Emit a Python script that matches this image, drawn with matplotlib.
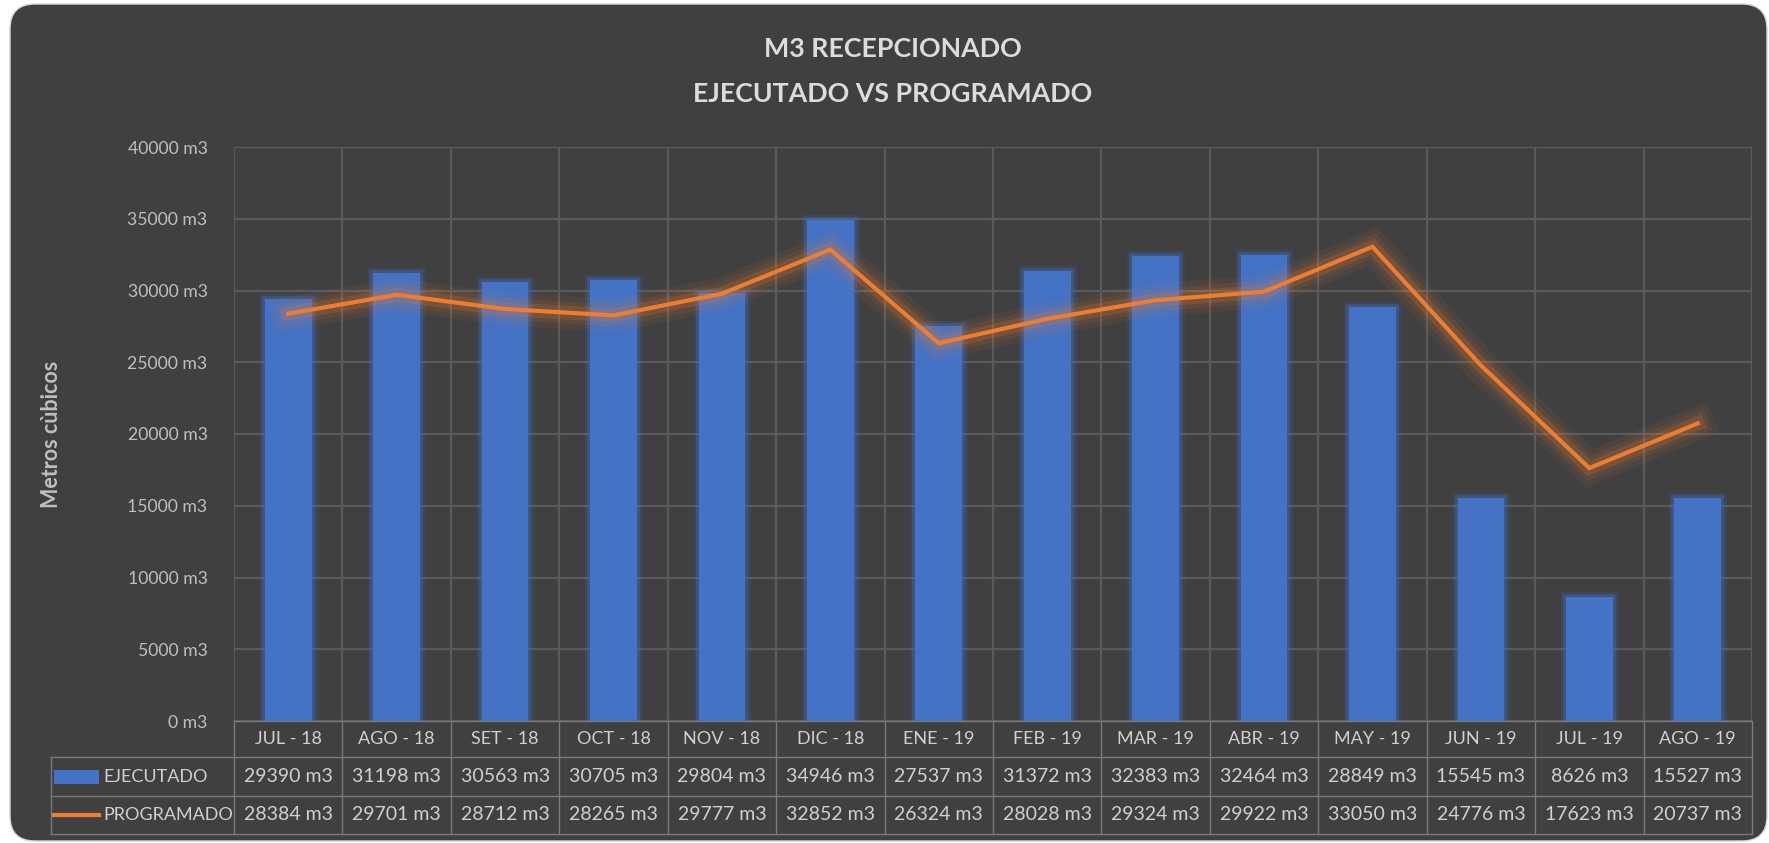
import matplotlib
matplotlib.use("Agg")
import matplotlib.pyplot as plt
import matplotlib.patheffects as pe
from matplotlib.patches import FancyBboxPatch, Rectangle
from matplotlib.lines import Line2D
from matplotlib.transforms import blended_transform_factory
import numpy as np

plt.rcParams['font.family'] = ['Lato', 'DejaVu Sans']

categories = ["JUL - 18", "AGO - 18", "SET - 18", "OCT - 18", "NOV - 18", "DIC - 18", "ENE - 19",
              "FEB - 19", "MAR - 19", "ABR - 19", "MAY - 19", "JUN - 19", "JUL - 19", "AGO - 19"]
ejecutado = [29390, 31198, 30563, 30705, 29804, 34946, 27537, 31372, 32383, 32464, 28849, 15545, 8626, 15527]
programado = [28384, 29701, 28712, 28265, 29777, 32852, 26324, 28028, 29324, 29922, 33050, 24776, 17623, 20737]
yticks = [0, 5000, 10000, 15000, 20000, 25000, 30000, 35000, 40000]
series_names = ["EJECUTADO", "PROGRAMADO"]
title_lines = ["M3 RECEPCIONADO", "EJECUTADO VS PROGRAMADO"]
ylabel = "Metros cùbicos"

W, H = 1769, 843
BAR_C = "#4472C4"
LINE_C = "#ED7D31"
GRID_C = "#5A5A5A"
PANEL_C = "#404040"
TXT_C = "#D0D0D0"

fig = plt.figure(figsize=(W / 100, H / 100), dpi=100, facecolor="white")

# dark rounded panel
panel = FancyBboxPatch((0.10, 0.02), 17.57, 8.37, boxstyle="round,pad=0,rounding_size=0.25",
                       transform=fig.dpi_scale_trans, facecolor=PANEL_C, edgecolor="#D8D8D8",
                       linewidth=1.0, zorder=-5)
fig.patches.append(panel)

L, R, T, B = 234, 1752, 147, 721
ax = fig.add_axes([L / W, (H - B) / H, (R - L) / W, (B - T) / H])
ax.set_zorder(2)
ax.set_facecolor("none")
n = len(categories)
x = np.arange(n)
ax.set_xlim(-0.5, n - 0.5)
ax.set_ylim(0, 40000)

# grid
for yv in yticks:
    ax.axhline(yv, color=GRID_C, lw=1.6, zorder=1)
for b in np.arange(-0.5, n, 1.0):
    ax.axvline(b, color=GRID_C, lw=1.6, zorder=1)
for s in ax.spines.values():
    s.set_visible(False)

ax.set_xticks([])
ax.set_yticks(yticks)
ax.set_yticklabels([f"{v} m3" for v in yticks], fontsize=12.7, color="#BFBFBF")
ax.tick_params(axis="y", length=0, pad=19)

bars = ax.bar(x, ejecutado, width=0.43, color=BAR_C, zorder=2)
for bb in bars:
    bb.set_path_effects([pe.Stroke(linewidth=8, foreground="#3F6FD0", alpha=0.15),
                         pe.Stroke(linewidth=4, foreground="#3F6FD0", alpha=0.35),
                         pe.Normal()])

ax.plot(x, programado, color=LINE_C, lw=3, zorder=3, solid_joinstyle="miter",
        path_effects=[pe.Stroke(linewidth=24, foreground=LINE_C, alpha=0.07),
                      pe.Stroke(linewidth=16, foreground=LINE_C, alpha=0.10),
                      pe.Stroke(linewidth=10, foreground=LINE_C, alpha=0.18),
                      pe.Normal()])

# titles
fig.text(893 / W, 1 - 49 / H, title_lines[0], ha="center", va="center", fontsize=19.3,
         fontweight="bold", color="#DCDCDC")
fig.text(893 / W, 1 - 94 / H, title_lines[1], ha="center", va="center", fontsize=19.3,
         fontweight="bold", color="#DCDCDC")
fig.text(51 / W, 1 - 434 / H, ylabel, ha="center", va="center", rotation=90, fontsize=15.5,
         fontweight="bold", color="#BFBFBF")

# data table
ah = B - T
def ay(py):
    return (B - py) / ah

rows_y = [B, 757, 796, 834]
tdata = blended_transform_factory(ax.transData, ax.transAxes)
tfig = blended_transform_factory(fig.transFigure, ax.transAxes)
TL = 51 / W
line_kw = dict(color="#7A7A7A", lw=1.0, clip_on=False, zorder=5)

# horizontal lines
ax.add_line(Line2D([-0.5, n - 0.5], [ay(rows_y[0])] * 2, transform=tdata, **line_kw))
for py in rows_y[1:]:
    ln = Line2D([TL, R / W], [ay(py)] * 2, transform=tfig, **line_kw)
    ax.add_line(ln)
# vertical lines
for b in np.arange(-0.5, n, 1.0):
    ax.add_line(Line2D([b, b], [ay(rows_y[0]), ay(rows_y[3])], transform=tdata, **line_kw))
ax.add_line(Line2D([TL, TL], [ay(rows_y[1]), ay(rows_y[3])], transform=tfig, **line_kw))

def cy(i):
    return ay((rows_y[i] + rows_y[i + 1]) / 2)

for i, c in enumerate(categories):
    ax.text(i, cy(0), c, transform=tdata, ha="center", va="center", fontsize=13,
            color=TXT_C, clip_on=False)
    ax.text(i, cy(1), f"{ejecutado[i]} m3", transform=tdata, ha="center", va="center",
            fontsize=14, color=TXT_C, clip_on=False)
    ax.text(i, cy(2), f"{programado[i]} m3", transform=tdata, ha="center", va="center",
            fontsize=14, color=TXT_C, clip_on=False)

# legend keys
rh = 14 / ah
ax.add_patch(Rectangle((54 / W, cy(1) - rh / 2), 45 / W, rh, transform=tfig,
                       facecolor=BAR_C, edgecolor="none", clip_on=False, zorder=6))
ax.add_line(Line2D([54 / W, 99 / W], [cy(2)] * 2, transform=tfig, color=LINE_C, lw=3,
                   clip_on=False, zorder=6))
ax.text(103 / W, cy(1), series_names[0], transform=tfig, ha="left", va="center",
        fontsize=13, color=TXT_C, clip_on=False)
ax.text(103 / W, cy(2), series_names[1], transform=tfig, ha="left", va="center",
        fontsize=13, color=TXT_C, clip_on=False)

fig.savefig("out.png", dpi=100, facecolor="white")
